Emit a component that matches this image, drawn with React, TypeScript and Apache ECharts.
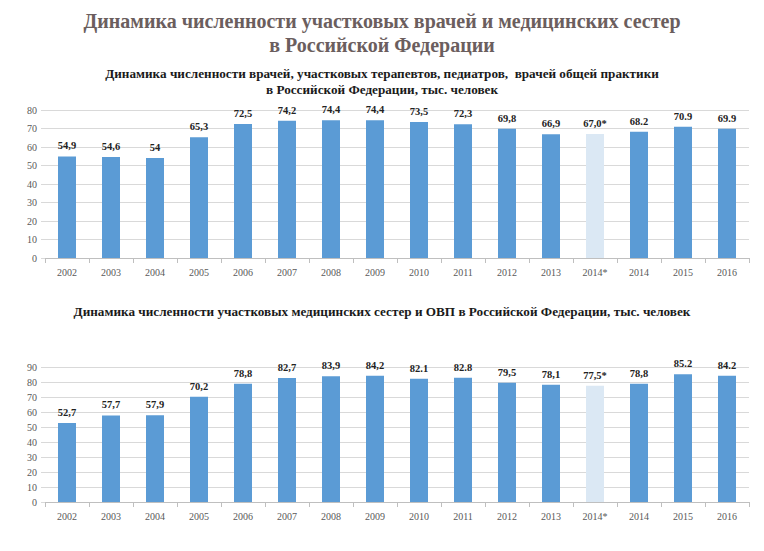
import React, { useEffect, useRef } from "react";
import * as echarts from "echarts";

const years = ["2002", "2003", "2004", "2005", "2006", "2007", "2008", "2009", "2010", "2011", "2012", "2013", "2014*", "2014", "2015", "2016"];
const doctors = [54.9, 54.6, 54, 65.3, 72.5, 74.2, 74.4, 74.4, 73.5, 72.3, 69.8, 66.9, 67.0, 68.2, 70.9, 69.9];
const doctorLabels = ["54,9", "54,6", "54", "65,3", "72,5", "74,2", "74,4", "74,4", "73,5", "72,3", "69,8", "66,9", "67,0*", "68.2", "70.9", "69.9"];
const nurses = [52.7, 57.7, 57.9, 70.2, 78.8, 82.7, 83.9, 84.2, 82.1, 82.8, 79.5, 78.1, 77.5, 78.8, 85.2, 84.2];
const nurseLabels = ["52,7", "57,7", "57,9", "70,2", "78,8", "82,7", "83,9", "84,2", "82.1", "82.8", "79,5", "78,1", "77,5*", "78,8", "85.2", "84.2"];
const estimateIndex = 12;

const mainTitle1 = "Динамика численности участковых врачей и медицинских сестер";
const mainTitle2 = "в Российской Федерации";
const sub1a = "Динамика численности врачей, участковых терапевтов, педиатров,  врачей общей практики";
const sub1b = "в Российской Федерации, тыс. человек";
const sub2 = "Динамика численности участковых медицинских сестер и ОВП в Российской Федерации, тыс. человек";

const BLUE = "#5b9bd5";
const LIGHT = "#dbe8f4";
const AXISFONT = "Liberation Sans Narrow";
const SERIF = "Liberation Serif";

function barData(values: number[]) {
  return values.map((v, i) => ({
    value: v,
    itemStyle: { color: i === estimateIndex ? LIGHT : BLUE },
  }));
}

export default function App() {
  const ref = useRef<HTMLDivElement>(null);
  useEffect(() => {
    if (!ref.current) return;
    const chart = echarts.init(ref.current, null, { renderer: "svg" });
    const xAxisCommon = {
      type: "category" as const,
      data: years,
      boundaryGap: true,
      axisLine: { show: true, lineStyle: { color: "#bfbfbf", width: 1 } },
      axisTick: { show: true, length: 5, lineStyle: { color: "#bfbfbf" } },
      axisLabel: { color: "#595959", fontSize: 10, fontFamily: AXISFONT, margin: 9 },
    };
    const yAxisCommon = {
      type: "value" as const,
      min: 0,
      interval: 10,
      axisLine: { show: false },
      axisTick: { show: true, length: 4, lineStyle: { color: "#d9d9d9" } },
      splitLine: { show: true, lineStyle: { color: "#d9d9d9", width: 1 } },
      axisLabel: { color: "#595959", fontSize: 10, fontFamily: AXISFONT, margin: 8 },
    };
    const labelFor = (labels: string[]) => ({
      show: true,
      position: "top" as const,
      distance: 5,
      fontSize: 10.5,
      fontWeight: "bold" as const,
      fontFamily: SERIF,
      color: "#222",
      formatter: (p: any) => labels[p.dataIndex],
    });
    const titleText = (text: string, y: number, size: number, color: string) => ({
      type: "text" as const,
      x: 382,
      y,
      style: {
        text,
        fill: color,
        fontSize: size,
        fontWeight: "bold",
        fontFamily: SERIF,
        textAlign: "center" as const,
        textVerticalAlign: "middle" as const,
      },
    });
    chart.setOption({
      animation: false,
      backgroundColor: "#ffffff",
      graphic: [
        titleText(mainTitle1, 21, 20, "#6b5e5e"),
        titleText(mainTitle2, 45, 20, "#6b5e5e"),
        titleText(sub1a, 73, 13.2, "#1a1a1a"),
        titleText(sub1b, 89, 13.2, "#1a1a1a"),
        titleText(sub2, 311, 13.2, "#1a1a1a"),
      ],
      grid: [
        { left: 45, right: 15, top: 110, height: 148 },
        { left: 45, right: 15, top: 367, height: 135 },
      ],
      xAxis: [
        { ...xAxisCommon, gridIndex: 0 },
        { ...xAxisCommon, gridIndex: 1 },
      ],
      yAxis: [
        { ...yAxisCommon, gridIndex: 0, max: 80 },
        { ...yAxisCommon, gridIndex: 1, max: 90 },
      ],
      series: [
        {
          type: "bar",
          xAxisIndex: 0,
          yAxisIndex: 0,
          barWidth: 18,
          data: barData(doctors),
          label: labelFor(doctorLabels),
        },
        {
          type: "bar",
          xAxisIndex: 1,
          yAxisIndex: 1,
          barWidth: 18,
          data: barData(nurses),
          label: labelFor(nurseLabels),
        },
      ],
    });
    return () => chart.dispose();
  }, []);
  return (
    <div
      ref={ref}
      style={{ position: "fixed", left: 0, top: 0, width: 764, height: 551, background: "#fff" }}
    />
  );
}
